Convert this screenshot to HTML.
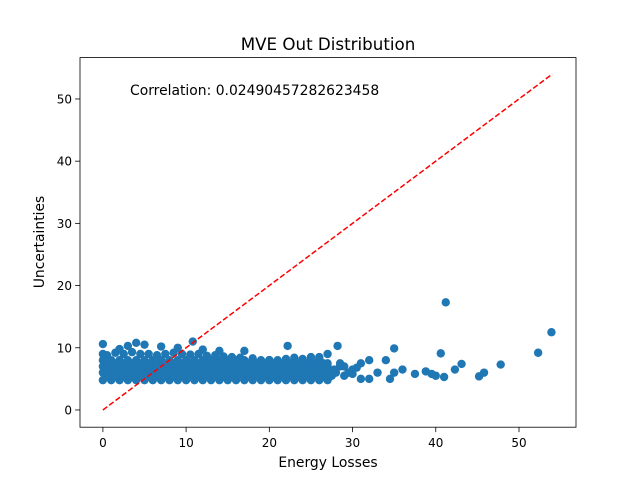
<!DOCTYPE html>
<html><head><meta charset="utf-8"><style>
body{margin:0;background:#fff;}
svg{display:block;font-family:"DejaVu Sans","Liberation Sans",sans-serif;}
</style></head><body>
<svg id="chart" width="640" height="480" viewBox="0 0 640 480">
<rect width="640" height="480" fill="#fff"/>
<text x="328" y="50" text-anchor="middle" font-size="16.7">MVE Out Distribution</text>
<text x="328" y="467" text-anchor="middle" font-size="13.9">Energy Losses</text>
<text transform="translate(44,242) rotate(-90)" text-anchor="middle" font-size="13.9">Uncertainties</text>
<g id="marks"></g>
<g id="axes"></g>
</svg>
<script>
const xTicks=[0,10,20,30,40,50];
const yTicks=[0,10,20,30,40,50];
const xs=[0,1,2,3,4,5,6,7,8,9,10,11,12,13,14,15,16,17,18,19,20,21,22,23,24,25,26,27,
0,1,2,3,4,5,6,7,8,9,10,11,12,13,14,15,16,17,18,19,20,21,22,23,24,25,26,27,
0,1,2,3,4,5,6,7,8,9,10,11,12,13,14,15,16,17,18,19,20,21,22,23,24,25,26,27,
0,1,2,3,4,5,6,7,8,9,10,11,12,13,14,15,16,17,18,19,20,21,22,23,24,25,26,27,
0.5,1.5,2.5,3.5,4.5,5.5,6.5,7.5,8.5,9.5,10.5,11.5,12.5,13.5,14.5,15.5,16.5,17.5,18.5,19.5,20.5,21.5,22.5,23.5,24.5,25.5,26.5,
0.5,1.5,2.5,3.5,4.5,5.5,6.5,7.5,8.5,9.5,10.5,11.5,12.5,13.5,14.5,15.5,16.5,17.5,18.5,19.5,20.5,21.5,22.5,23.5,24.5,25.5,26.5,
0.5,1.5,2.5,3.5,4.5,5.5,6.5,7.5,8.5,9.5,10.5,11.5,12.5,13.5,14.5,15.5,16.5,17.5,18.5,19.5,20.5,21.5,22.5,23.5,24.5,25.5,26.5,
0,0.5,1.5,2.5,3.5,4.5,5.5,6.5,7.5,8.5,9.5,10.5,11.5,12.5,13.5,14.5,15.5,16.5,18,20,22,23,24,25,26,
28.2,29,30,31,32,32,33,34,34.5,35,35,36,37.5,38.8,39.5,40,40.6,41,41.2,42.3,43.1,45.2,45.8,47.8,52.3,53.9,
22.2,10.8,0,4,5,7,9,12,14,17,20,24,26,27,2,3,28,29,30,31,28.5,30.5,27.5,27.8,28.5,29.5];
const ys=[4.8,4.8,4.8,4.8,4.8,4.8,4.8,4.8,4.8,4.8,4.8,4.8,4.8,4.8,4.8,4.8,4.8,4.8,4.8,4.8,4.8,4.8,4.8,4.8,4.8,4.8,4.8,4.8,
6,6,6,6,6,6,6,6,6,6,6,6,6,6,6,6,6,6,6,6,6,6,6,6,6,6,6,6,
7,7,7,7,7,7,7,7,7,7,7,7,7,7,7,7,7,7,7,7,7,7,7,7,7,7,7,7,
8,8,8,8,8,8,8,8,8,8,8,8,8,8,8,8,8,8,8,8,8,8,8,8,8,8,8,7.5,
5.4,5.4,5.4,5.4,5.4,5.4,5.4,5.4,5.4,5.4,5.4,5.4,5.4,5.4,5.4,5.4,5.4,5.4,5.4,5.4,5.4,5.4,5.4,5.4,5.4,5.4,5.4,
6.5,6.5,6.5,6.5,6.5,6.5,6.5,6.5,6.5,6.5,6.5,6.5,6.5,6.5,6.5,6.5,6.5,6.5,6.5,6.5,6.5,6.5,6.5,6.5,6.5,6.5,6.5,
7.5,7.5,7.5,7.5,7.5,7.5,7.5,7.5,7.5,7.5,7.5,7.5,7.5,7.5,7.5,7.5,7.5,7.5,7.5,7.5,7.5,7.5,7.5,7.5,7.5,7.5,7.5,
9,8.8,9.2,9,9.3,9,9,8.8,9,9.2,9,8.9,9,8.7,8.8,8.6,8.5,8.4,8.3,8,8.2,8.4,8,8.5,8.3,
10.3,7,6.5,7.5,8,5,6,8,5,9.9,6,6.5,5.8,6.2,5.8,5.5,9.1,5.3,17.3,6.5,7.4,5.4,6,7.3,9.2,12.5,
10.3,11,10.6,10.8,10.5,10.2,10,9.7,9.5,9.5,8,8.2,8.5,9,9.8,10.3,6,5.5,5.8,5,7,6.8,5.5,6.5,7.5,6];
const X0=-2.75,X1=56.85,Y0=-2.77,Y1=56.65;
const L=80,R=576,T=57.6,B=427.2;
const sx=v=>L+(v-X0)/(X1-X0)*(R-L);
const sy=v=>B-(v-Y0)/(Y1-Y0)*(B-T);
const NS="http://www.w3.org/2000/svg";
const marks=document.getElementById('marks'),axes=document.getElementById('axes');
for(let i=0;i<xs.length;i++){
 const c=document.createElementNS(NS,'circle');
 c.setAttribute('cx',sx(xs[i]));c.setAttribute('cy',sy(ys[i]));c.setAttribute('r',4.2);c.setAttribute('fill','#1f77b4');
 
 
 marks.appendChild(c);
}
const ln=document.createElementNS(NS,'line');
ln.setAttribute('x1',sx(0));ln.setAttribute('y1',sy(0));ln.setAttribute('x2',sx(54));ln.setAttribute('y2',sy(54));
ln.setAttribute('stroke','red');ln.setAttribute('stroke-width',1.5);ln.setAttribute('stroke-dasharray','5.5,2.4');


marks.appendChild(ln);
const ct=document.createElementNS(NS,'text');
ct.setAttribute('x',130);ct.setAttribute('y',95);ct.setAttribute('font-size',13.9);
ct.textContent='Correlation: 0.02490457282623458';


marks.appendChild(ct);
const fr=document.createElementNS(NS,'rect');
fr.setAttribute('x',L);fr.setAttribute('y',T);fr.setAttribute('width',R-L);fr.setAttribute('height',B-T);
fr.setAttribute('fill','none');fr.setAttribute('stroke','#000');fr.setAttribute('stroke-width',0.8);


axes.appendChild(fr);
xTicks.forEach(t=>{
 const l=document.createElementNS(NS,'line');
 l.setAttribute('x1',sx(t));l.setAttribute('x2',sx(t));l.setAttribute('y1',B);l.setAttribute('y2',B+4.9);l.setAttribute('stroke','#000');l.setAttribute('stroke-width',0.8);
 
 
 axes.appendChild(l);
 const tx=document.createElementNS(NS,'text');
 tx.setAttribute('x',sx(t));tx.setAttribute('y',B+20);tx.setAttribute('text-anchor','middle');tx.setAttribute('font-size',12);
 tx.textContent=t;
 
 
 axes.appendChild(tx);
});
yTicks.forEach(t=>{
 const l=document.createElementNS(NS,'line');
 l.setAttribute('x1',L-4.9);l.setAttribute('x2',L);l.setAttribute('y1',sy(t));l.setAttribute('y2',sy(t));l.setAttribute('stroke','#000');l.setAttribute('stroke-width',0.8);
 
 
 axes.appendChild(l);
 const tx=document.createElementNS(NS,'text');
 tx.setAttribute('x',L-8);tx.setAttribute('y',sy(t)+4.5);tx.setAttribute('text-anchor','end');tx.setAttribute('font-size',12);
 tx.textContent=t;
 
 
 axes.appendChild(tx);
});
</script>
</body></html>
